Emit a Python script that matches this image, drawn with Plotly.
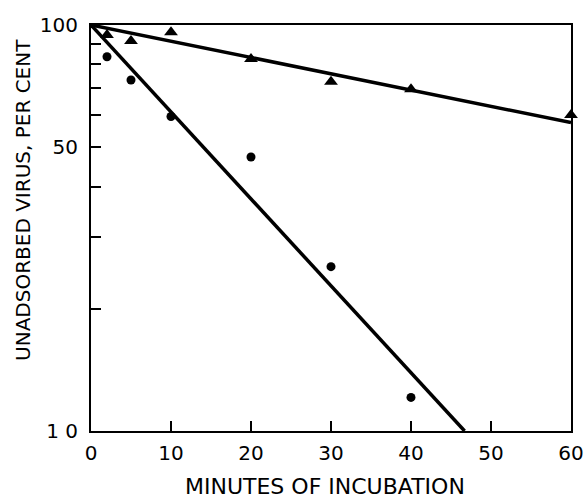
import plotly.graph_objects as go

# Data
circle_minutes = [2, 5, 10, 20, 30, 40]
circle_percent = [83.5, 73.2, 59.5, 47.3, 25.4, 12.1]
triangle_minutes = [2, 5, 10, 20, 30, 40, 60]
triangle_percent = [94.5, 91.3, 96.0, 82.5, 72.5, 69.5, 60.0]

# Fitted straight lines (on log scale)
circle_fit_minutes = [0, 46.7]
circle_fit_percent = [100, 10]
triangle_fit_minutes = [0, 60]
triangle_fit_percent = [100, 57.5]

y_tickvals = [10, 20, 30, 40, 50, 60, 70, 80, 90, 100]
y_ticktext = ["1 0", "", "", "", "50", "", "", "", "", "100"]
x_tickvals = [0, 10, 20, 30, 40, 50, 60]
x_ticktext = ["0", "10", "20", "30", "40", "50", "60"]

x_title = "MINUTES OF INCUBATION"
y_title = "UNADSORBED VIRUS, PER CENT"

FONT = "DejaVu Sans"

fig = go.Figure()
fig.add_trace(go.Scatter(x=circle_fit_minutes, y=circle_fit_percent, mode="lines",
                         line=dict(color="black", width=3.5), showlegend=False))
fig.add_trace(go.Scatter(x=triangle_fit_minutes, y=triangle_fit_percent, mode="lines",
                         line=dict(color="black", width=3.5), showlegend=False))
fig.add_trace(go.Scatter(x=circle_minutes, y=circle_percent, mode="markers",
                         marker=dict(symbol="circle", size=9, color="black"),
                         showlegend=False))
fig.add_trace(go.Scatter(x=triangle_minutes, y=triangle_percent, mode="markers",
                         marker=dict(symbol="triangle-up", size=12, color="black"),
                         showlegend=False, cliponaxis=False))

fig.update_layout(
    width=587, height=500,
    margin=dict(l=91, r=16, t=25, b=69),
    paper_bgcolor="white", plot_bgcolor="white",
    font=dict(family=FONT, color="black"),
    annotations=[
        dict(text=x_title, xref="paper", yref="paper", x=0.487, y=-0.1355,
             xanchor="center", yanchor="middle", showarrow=False,
             font=dict(size=22, family=FONT, color="black")),
        dict(text=y_title, xref="paper", yref="paper", x=-0.1417, y=0.569,
             xanchor="center", yanchor="middle", showarrow=False, textangle=-90,
             font=dict(size=20, family=FONT, color="black")),
    ],
)
fig.update_xaxes(
    range=[0, 60], tickvals=x_tickvals, ticktext=x_ticktext,
    ticks="inside", ticklen=10, tickwidth=2, tickcolor="black",
    showline=True, linecolor="black", linewidth=2, mirror=True,
    showgrid=False, zeroline=False, automargin=False,
    tickfont=dict(size=20, family=FONT), ticklabelstandoff=3,
)
fig.update_yaxes(
    type="log", range=[1, 2], tickvals=y_tickvals, ticktext=y_ticktext,
    ticks="inside", ticklen=10, tickwidth=2, tickcolor="black",
    showline=True, linecolor="black", linewidth=2, mirror=True,
    showgrid=False, zeroline=False, automargin=False,
    tickfont=dict(size=20, family=FONT), ticklabelstandoff=7,
)

# Remove the browser's default 8px page margin so the figure fills the window.
fig.write_html("out.html",
               config={"displayModeBar": False},
               post_script="document.body.style.margin='0';document.body.style.overflow='hidden';")
